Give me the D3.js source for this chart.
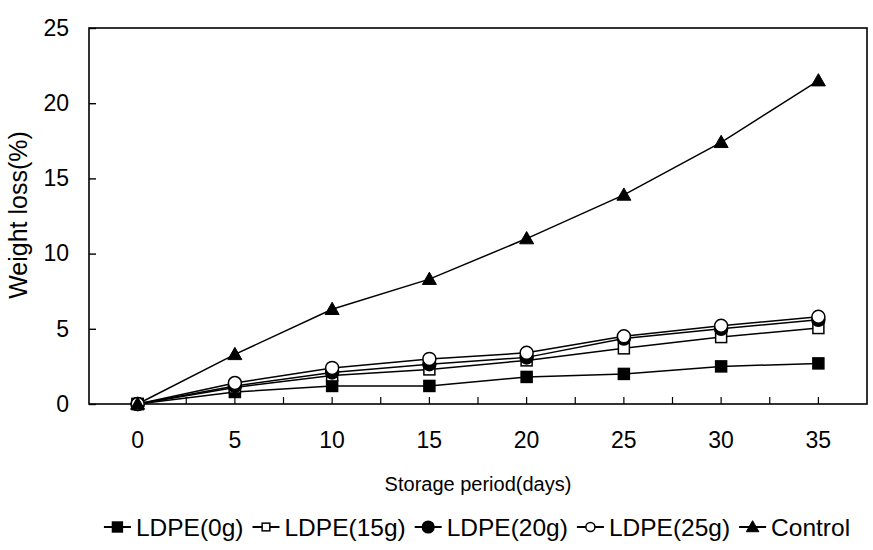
<!DOCTYPE html>
<html>
<head>
<meta charset="utf-8">
<script src="https://cdn.jsdelivr.net/npm/d3@7"></script>
<style>
  html, body { margin: 0; padding: 0; background: #fff; }
  svg { display: block; font-family: "Liberation Sans", Arial, sans-serif; }
</style>
</head>
<body>
<svg id="chart" width="873" height="550"></svg>
<script>
// Storage period (days)
const days = ["0", "5", "10", "15", "20", "25", "30", "35"];
// Weight loss (%) per packaging treatment
const ldpe0  = [0, 0.8, 1.2, 1.2, 1.8, 2.0, 2.5, 2.7];
const ldpe15 = [0, 1.1, 1.9, 2.3, 2.9, 3.7, 4.45, 5.05];
const ldpe20 = [0, 1.2, 2.1, 2.65, 3.1, 4.35, 5.0, 5.6];
const ldpe25 = [0, 1.4, 2.4, 3.0, 3.4, 4.5, 5.2, 5.8];
const control = [0, 3.3, 6.3, 8.3, 11.0, 13.9, 17.4, 21.5];
const yTicks = [0, 5, 10, 15, 20, 25];

const seriesNames = ["LDPE(0g)", "LDPE(15g)", "LDPE(20g)", "LDPE(25g)", "Control"];
const seriesValues = [ldpe0, ldpe15, ldpe20, ldpe25, control];
const seriesMarkers = ["squareFill", "squareOpen", "circleFill", "circleOpen", "triangle"];

const svg = d3.select("#chart");
const plotLeft = 89, plotRight = 867, plotTop = 28, plotBottom = 404;

const x = d3.scaleBand().domain(days).range([plotLeft, plotRight]);
const y = d3.scaleLinear().domain([0, 25]).range([plotBottom, plotTop]);
const cx = d => x(d) + x.bandwidth() / 2;

// plot frame
svg.append("rect")
  .attr("x", plotLeft).attr("y", plotTop)
  .attr("width", plotRight - plotLeft).attr("height", plotBottom - plotTop)
  .attr("fill", "none").attr("stroke", "#000").attr("stroke-width", 1.6);

// y axis
const yAxis = svg.append("g")
  .attr("transform", `translate(${plotLeft},0)`)
  .call(d3.axisLeft(y).tickValues(yTicks).tickSize(-7).tickPadding(20).tickFormat(d3.format("d")));
yAxis.select(".domain").remove();
yAxis.selectAll("line").attr("stroke", "#000").attr("stroke-width", 1.4);
yAxis.selectAll("text").attr("font-size", 23).attr("fill", "#000")
  .attr("font-family", "'Liberation Sans', Arial, sans-serif");

// x axis labels
const xAxis = svg.append("g")
  .attr("transform", `translate(0,${plotBottom})`)
  .call(d3.axisBottom(x).tickSize(0).tickPadding(28));
xAxis.select(".domain").remove();
xAxis.selectAll("text").attr("font-size", 23).attr("fill", "#000")
  .attr("font-family", "'Liberation Sans', Arial, sans-serif");

// x axis ticks at category centres and boundaries
const tickXs = [];
days.forEach((d, i) => {
  if (i > 0) tickXs.push(x(d));
  tickXs.push(cx(d));
});
svg.append("g").selectAll("line").data(tickXs).join("line")
  .attr("x1", d => d).attr("x2", d => d)
  .attr("y1", plotBottom).attr("y2", plotBottom - 7)
  .attr("stroke", "#000").attr("stroke-width", 1.2);

// axis titles
svg.append("text")
  .attr("x", 478).attr("y", 491)
  .attr("text-anchor", "middle").attr("font-size", 20).attr("fill", "#000")
  .text("Storage period(days)");
svg.append("text")
  .attr("transform", "translate(27,215) rotate(-90)")
  .attr("text-anchor", "middle").attr("font-size", 25).attr("fill", "#000")
  .text("Weight loss(%)");

// marker drawing
function drawMarker(g, type, px, py, scale) {
  const s = scale || 1;
  if (type === "squareFill" || type === "squareOpen") {
    const h = 5.5 * s;
    g.append("rect").attr("x", px - h).attr("y", py - h)
      .attr("width", 2 * h).attr("height", 2 * h)
      .attr("fill", type === "squareFill" ? "#000" : "#fff")
      .attr("stroke", "#000").attr("stroke-width", 1.5);
  } else if (type === "circleFill" || type === "circleOpen") {
    g.append("circle").attr("cx", px).attr("cy", py).attr("r", 6.5 * s)
      .attr("fill", type === "circleFill" ? "#000" : "#fff")
      .attr("stroke", "#000").attr("stroke-width", 1.5);
  } else {
    const h = 7 * s;
    g.append("path")
      .attr("d", `M${px},${py - h}L${px + h},${py + h * 0.75}L${px - h},${py + h * 0.75}Z`)
      .attr("fill", "#000").attr("stroke", "#000").attr("stroke-width", 1);
  }
}

const line = d3.line().x((v, i) => cx(days[i])).y(v => y(v));

// series lines first, then markers on top
const plot = svg.append("g");
seriesValues.forEach(vals => {
  plot.append("path").attr("d", line(vals))
    .attr("fill", "none").attr("stroke", "#000").attr("stroke-width", 1.5);
});
seriesValues.forEach((vals, si) => {
  const g = plot.append("g");
  vals.forEach((v, i) => drawMarker(g, seriesMarkers[si], cx(days[i]), y(v), 1));
});

// legend
const legend = svg.append("g");
const legendY = 527;
const lineLen = 27;
let lx = 0;
seriesNames.forEach((name, i) => {
  const g = legend.append("g");
  g.append("line").attr("x1", lx).attr("x2", lx + lineLen)
    .attr("y1", legendY).attr("y2", legendY)
    .attr("stroke", "#000").attr("stroke-width", 2);
  const open = seriesMarkers[i].endsWith("Open");
  drawMarker(g, seriesMarkers[i], lx + lineLen / 2, legendY, open ? 0.7 : 0.9);
  const t = g.append("text").attr("x", lx + lineLen + 5).attr("y", legendY + 9)
    .attr("font-size", 24.5).attr("fill", "#000").text(name);
  const w = t.node().getComputedTextLength();
  lx += lineLen + 5 + w + 9;
});
const totalW = lx - 9;
legend.attr("transform", `translate(${477 - totalW / 2},0)`);
</script>
</body>
</html>
